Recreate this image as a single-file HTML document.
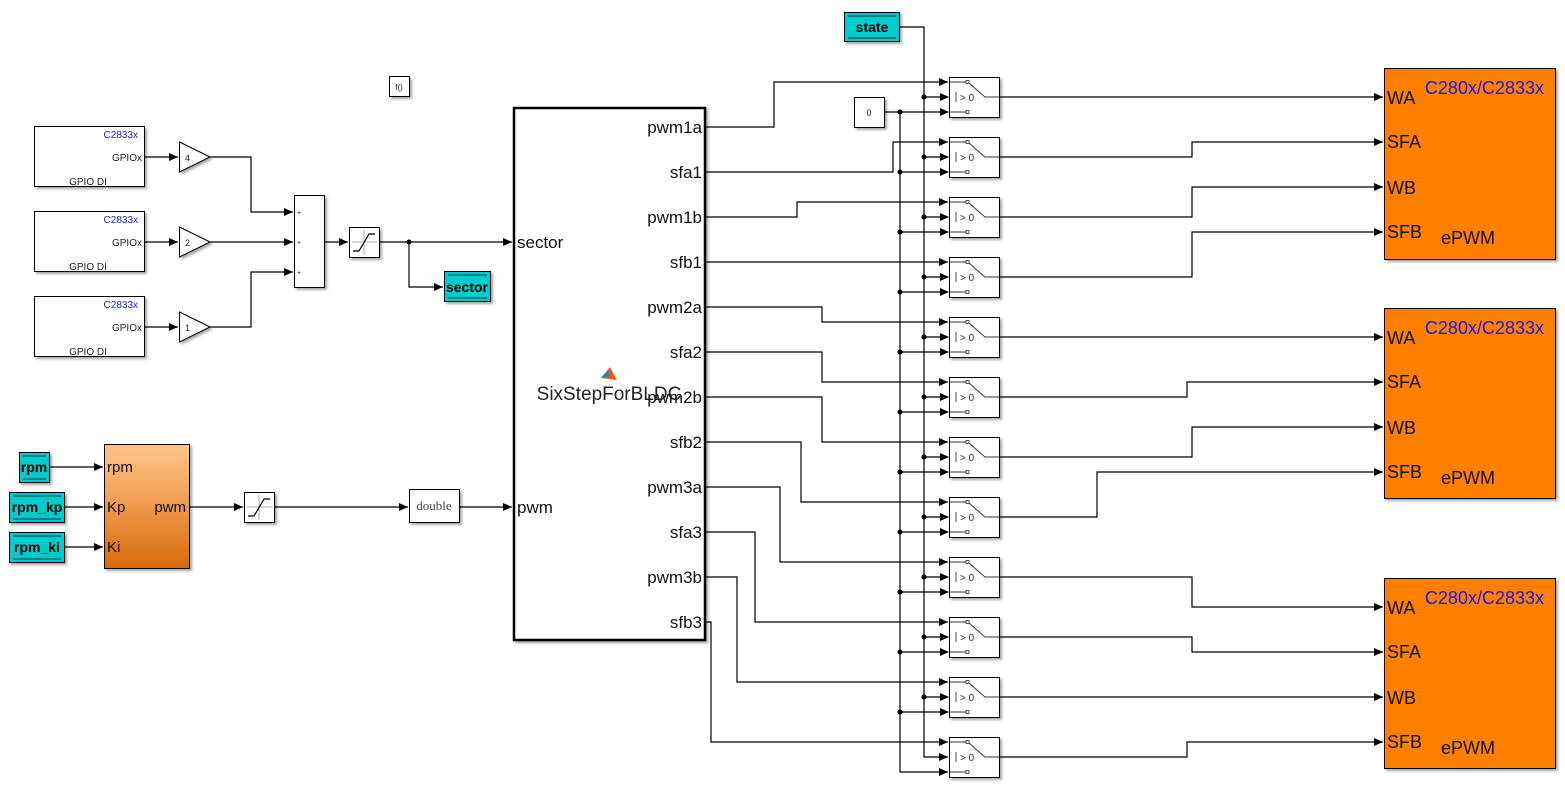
<!DOCTYPE html>
<html><head><meta charset="utf-8"><style>
html,body{margin:0;padding:0;background:#fff;}
svg{display:block;font-family:"Liberation Sans",Arial,sans-serif;}
</style></head><body>
<svg width="1565" height="786" viewBox="0 0 1565 786" xmlns="http://www.w3.org/2000/svg">
<defs>
<marker id="a" markerWidth="10" markerHeight="8" refX="9" refY="4" orient="auto" markerUnits="userSpaceOnUse"><path d="M0,0 L9,4 L0,8 Z" fill="#000"/></marker>
<linearGradient id="og" x1="0" y1="0" x2="0" y2="1"><stop offset="0" stop-color="#ffc58a"/><stop offset="0.35" stop-color="#f5a860"/><stop offset="1" stop-color="#d86a08"/></linearGradient>
<filter id="sh" x="-10%" y="-10%" width="130%" height="130%"><feDropShadow dx="2" dy="2" stdDeviation="1.2" flood-color="#000" flood-opacity="0.35"/></filter>
</defs>

<g fill="none" stroke="#000" stroke-width="1.2">
<path d="M144 157 H178" marker-end="url(#a)"/>
<path d="M144 242 H178" marker-end="url(#a)"/>
<path d="M144 327 H178" marker-end="url(#a)"/>
<path d="M210 157 H251 V212 H293" marker-end="url(#a)"/>
<path d="M210 242 H293" marker-end="url(#a)"/>
<path d="M210 327 H251 V272 H293" marker-end="url(#a)"/>
<path d="M324 242 H348" marker-end="url(#a)"/>
<path d="M379 242 H512" marker-end="url(#a)"/>
<path d="M409 242 V287 H443" marker-end="url(#a)"/>
<path d="M49 467 H103" marker-end="url(#a)"/>
<path d="M64 507 H103" marker-end="url(#a)"/>
<path d="M64 547 H103" marker-end="url(#a)"/>
<path d="M189 507 H243" marker-end="url(#a)"/>
<path d="M274 507 H408" marker-end="url(#a)"/>
<path d="M459 507 H512" marker-end="url(#a)"/>
<path d="M705 127 H774 V82 H948" marker-end="url(#a)"/>
<path d="M705 172 H893 V142 H948" marker-end="url(#a)"/>
<path d="M705 217 H797 V202 H948" marker-end="url(#a)"/>
<path d="M705 262 H948" marker-end="url(#a)"/>
<path d="M705 307 H822 V322 H948" marker-end="url(#a)"/>
<path d="M705 352 H822 V382 H948" marker-end="url(#a)"/>
<path d="M705 397 H822 V442 H948" marker-end="url(#a)"/>
<path d="M705 442 H801 V502 H948" marker-end="url(#a)"/>
<path d="M705 487 H780 V562 H948" marker-end="url(#a)"/>
<path d="M705 532 H755 V622 H948" marker-end="url(#a)"/>
<path d="M705 577 H737 V682 H948" marker-end="url(#a)"/>
<path d="M705 622 H711 V742 H948" marker-end="url(#a)"/>
<path d="M899 27 H924 V757 H948" marker-end="url(#a)"/>
<path d="M924 97 H948 M924 157 H948 M924 217 H948 M924 277 H948 M924 337 H948 M924 397 H948 M924 457 H948 M924 517 H948 M924 577 H948 M924 637 H948 M924 697 H948"/>
<path d="M884 112 H900 V772 H948" marker-end="url(#a)"/>
<path d="M900 172 H948 M900 232 H948 M900 292 H948 M900 352 H948 M900 412 H948 M900 472 H948 M900 532 H948 M900 592 H948 M900 652 H948 M900 712 H948 M900 112 H948"/>
<path d="M999 97 H1383" marker-end="url(#a)"/>
<path d="M999 157 H1192 V142 H1383" marker-end="url(#a)"/>
<path d="M999 217 H1192 V187 H1383" marker-end="url(#a)"/>
<path d="M999 277 H1192 V232 H1383" marker-end="url(#a)"/>
<path d="M999 337 H1383" marker-end="url(#a)"/>
<path d="M999 397 H1187 V382 H1383" marker-end="url(#a)"/>
<path d="M999 457 H1192 V427 H1383" marker-end="url(#a)"/>
<path d="M999 517 H1097 V472 H1383" marker-end="url(#a)"/>
<path d="M999 577 H1192 V607 H1383" marker-end="url(#a)"/>
<path d="M999 637 H1192 V652 H1383" marker-end="url(#a)"/>
<path d="M999 697 H1383" marker-end="url(#a)"/>
<path d="M999 757 H1187 V742 H1383" marker-end="url(#a)"/>
</g>
<g fill="#000">
<path d="M940 93 L949 97 L940 101Z M940 108 L949 112 L940 116Z"/>
<path d="M940 153 L949 157 L940 161Z M940 168 L949 172 L940 176Z"/>
<path d="M940 213 L949 217 L940 221Z M940 228 L949 232 L940 236Z"/>
<path d="M940 273 L949 277 L940 281Z M940 288 L949 292 L940 296Z"/>
<path d="M940 333 L949 337 L940 341Z M940 348 L949 352 L940 356Z"/>
<path d="M940 393 L949 397 L940 401Z M940 408 L949 412 L940 416Z"/>
<path d="M940 453 L949 457 L940 461Z M940 468 L949 472 L940 476Z"/>
<path d="M940 513 L949 517 L940 521Z M940 528 L949 532 L940 536Z"/>
<path d="M940 573 L949 577 L940 581Z M940 588 L949 592 L940 596Z"/>
<path d="M940 633 L949 637 L940 641Z M940 648 L949 652 L940 656Z"/>
<path d="M940 693 L949 697 L940 701Z M940 708 L949 712 L940 716Z"/>
<circle cx="409" cy="242" r="2.5"/>
<circle cx="924" cy="97" r="2.5"/><circle cx="924" cy="157" r="2.5"/><circle cx="924" cy="217" r="2.5"/><circle cx="924" cy="277" r="2.5"/><circle cx="924" cy="337" r="2.5"/><circle cx="924" cy="397" r="2.5"/><circle cx="924" cy="457" r="2.5"/><circle cx="924" cy="517" r="2.5"/><circle cx="924" cy="577" r="2.5"/><circle cx="924" cy="637" r="2.5"/><circle cx="924" cy="697" r="2.5"/>
<circle cx="900" cy="112" r="2.5"/><circle cx="900" cy="172" r="2.5"/><circle cx="900" cy="232" r="2.5"/><circle cx="900" cy="292" r="2.5"/><circle cx="900" cy="352" r="2.5"/><circle cx="900" cy="412" r="2.5"/><circle cx="900" cy="472" r="2.5"/><circle cx="900" cy="532" r="2.5"/><circle cx="900" cy="592" r="2.5"/><circle cx="900" cy="652" r="2.5"/><circle cx="900" cy="712" r="2.5"/>
</g>

<g stroke="#000" stroke-width="1" fill="#fff" filter="url(#sh)">
<rect x="34.5" y="126.5" width="110" height="60"/>
<rect x="34.5" y="211.5" width="110" height="60"/>
<rect x="34.5" y="296.5" width="110" height="60"/>
<path d="M179.5 142 L210 157 L179.5 172Z"/>
<path d="M179.5 227 L210 242 L179.5 257Z"/>
<path d="M179.5 312 L210 327 L179.5 342Z"/>
<rect x="294.5" y="195.5" width="30" height="92"/>
<rect x="349.5" y="227.5" width="30" height="30"/>
<rect x="389.5" y="76.5" width="20" height="20"/>
<rect x="244.5" y="492.5" width="30" height="30"/>
<rect x="409.5" y="489.5" width="50" height="33"/>
<rect x="854.5" y="97.5" width="30" height="30"/>
</g>
<g font-size="10" fill="#222">
<text x="138" y="138" text-anchor="end" fill="#2222dd">C2833x</text>
<text x="142" y="161" text-anchor="end">GPIOx</text>
<text x="88" y="185" text-anchor="middle">GPIO DI</text>
<text x="138" y="223" text-anchor="end" fill="#2222dd">C2833x</text>
<text x="142" y="246" text-anchor="end">GPIOx</text>
<text x="88" y="270" text-anchor="middle">GPIO DI</text>
<text x="138" y="308" text-anchor="end" fill="#2222dd">C2833x</text>
<text x="142" y="331" text-anchor="end">GPIOx</text>
<text x="88" y="355" text-anchor="middle">GPIO DI</text>
<text x="185" y="161" font-size="9">4</text>
<text x="185" y="246" font-size="9">2</text>
<text x="185" y="331" font-size="9">1</text>
<text x="297" y="215" font-size="7">+</text>
<text x="297" y="245" font-size="7">+</text>
<text x="297" y="275" font-size="7">+</text>
<text x="399" y="90" font-size="8" text-anchor="middle">f()</text>
<text x="869" y="116" text-anchor="middle" font-size="9">0</text>
</g>
<g stroke="#999" stroke-width="0.8" fill="none">
<path d="M352 242 H377 M364 230 V255"/>
<path d="M247 507 H272 M259 495 V520"/>
</g>
<g stroke="#000" stroke-width="1.2" fill="none">
<path d="M353 251 H359 L369 234 H375"/>
<path d="M248 516 H254 L264 499 H270"/>
</g>
<text x="434" y="510" font-family="'Liberation Serif',serif" font-size="13" fill="#444" text-anchor="middle">double</text>

<g filter="url(#sh)" stroke="#000" stroke-width="1" fill="#00cccc">
<rect x="444.5" y="271.5" width="46" height="30"/>
<rect x="844.5" y="12.5" width="55" height="29"/>
<rect x="19.5" y="452.5" width="30" height="30"/>
<rect x="9.5" y="492.5" width="55" height="30"/>
<rect x="9.5" y="532.5" width="55" height="30"/>
</g>
<g stroke="#000" stroke-width="0.8">
<path d="M448 275 H487 M448 298 H487"/>
<path d="M848 16 H896 M848 38 H896"/>
<path d="M23 456 H46 M23 479 H46"/>
<path d="M13 496 H61 M13 519 H61"/>
<path d="M13 536 H61 M13 559 H61"/>
</g>
<g font-weight="bold" font-size="14" fill="#000" text-anchor="middle">
<text x="467" y="292">sector</text>
<text x="872" y="32">state</text>
<text x="34" y="472">rpm</text>
<text x="37" y="512">rpm_kp</text>
<text x="37" y="552">rpm_ki</text>
</g>

<rect x="104.5" y="444.5" width="85" height="124" fill="url(#og)" stroke="#000" filter="url(#sh)"/>
<g font-size="15" fill="#111">
<text x="107" y="472">rpm</text>
<text x="107" y="512">Kp</text>
<text x="107" y="552">Ki</text>
<text x="186" y="512" text-anchor="end">pwm</text>
</g>

<rect x="514" y="108" width="191" height="532" fill="#fff" stroke="#000" stroke-width="2.5" filter="url(#sh)"/>
<g font-size="17" fill="#111">
<text x="517" y="248">sector</text>
<text x="517" y="513">pwm</text>
<g text-anchor="end">
<text x="702" y="133">pwm1a</text>
<text x="702" y="178">sfa1</text>
<text x="702" y="223">pwm1b</text>
<text x="702" y="268">sfb1</text>
<text x="702" y="313">pwm2a</text>
<text x="702" y="358">sfa2</text>
<text x="702" y="403">pwm2b</text>
<text x="702" y="448">sfb2</text>
<text x="702" y="493">pwm3a</text>
<text x="702" y="538">sfa3</text>
<text x="702" y="583">pwm3b</text>
<text x="702" y="628">sfb3</text>
</g>
<text x="609" y="400" text-anchor="middle" font-size="19" fill="#222">SixStepForBLDC</text>
</g>
<path d="M601 378 L610 367 L617 380 Z" fill="#e06020"/>
<path d="M601 378 L608 370 L610 376 Z" fill="#2a7fc0"/>

<g stroke="#000" stroke-width="1" fill="#fff" filter="url(#sh)">
<rect x="949.5" y="77.5" width="50" height="40"/><rect x="949.5" y="137.5" width="50" height="40"/><rect x="949.5" y="197.5" width="50" height="40"/><rect x="949.5" y="257.5" width="50" height="40"/><rect x="949.5" y="317.5" width="50" height="40"/><rect x="949.5" y="377.5" width="50" height="40"/><rect x="949.5" y="437.5" width="50" height="40"/><rect x="949.5" y="497.5" width="50" height="40"/><rect x="949.5" y="557.5" width="50" height="40"/><rect x="949.5" y="617.5" width="50" height="40"/><rect x="949.5" y="677.5" width="50" height="40"/><rect x="949.5" y="737.5" width="50" height="40"/>
</g>
<g stroke="#333" stroke-width="0.9" fill="none">
<path d="M950 82H966M950 112H966M969 83L985 97H999M956 92V102"/>
<path d="M950 142H966M950 172H966M969 143L985 157H999M956 152V162"/>
<path d="M950 202H966M950 232H966M969 203L985 217H999M956 212V222"/>
<path d="M950 262H966M950 292H966M969 263L985 277H999M956 272V282"/>
<path d="M950 322H966M950 352H966M969 323L985 337H999M956 332V342"/>
<path d="M950 382H966M950 412H966M969 383L985 397H999M956 392V402"/>
<path d="M950 442H966M950 472H966M969 443L985 457H999M956 452V462"/>
<path d="M950 502H966M950 532H966M969 503L985 517H999M956 512V522"/>
<path d="M950 562H966M950 592H966M969 563L985 577H999M956 572V582"/>
<path d="M950 622H966M950 652H966M969 623L985 637H999M956 632V642"/>
<path d="M950 682H966M950 712H966M969 683L985 697H999M956 692V702"/>
<path d="M950 742H966M950 772H966M969 743L985 757H999M956 752V762"/>
<g stroke-width="0.8">
<rect x="966" y="80.5" width="3" height="3"/><rect x="966" y="110.5" width="3" height="3"/>
<rect x="966" y="140.5" width="3" height="3"/><rect x="966" y="170.5" width="3" height="3"/>
<rect x="966" y="200.5" width="3" height="3"/><rect x="966" y="230.5" width="3" height="3"/>
<rect x="966" y="260.5" width="3" height="3"/><rect x="966" y="290.5" width="3" height="3"/>
<rect x="966" y="320.5" width="3" height="3"/><rect x="966" y="350.5" width="3" height="3"/>
<rect x="966" y="380.5" width="3" height="3"/><rect x="966" y="410.5" width="3" height="3"/>
<rect x="966" y="440.5" width="3" height="3"/><rect x="966" y="470.5" width="3" height="3"/>
<rect x="966" y="500.5" width="3" height="3"/><rect x="966" y="530.5" width="3" height="3"/>
<rect x="966" y="560.5" width="3" height="3"/><rect x="966" y="590.5" width="3" height="3"/>
<rect x="966" y="620.5" width="3" height="3"/><rect x="966" y="650.5" width="3" height="3"/>
<rect x="966" y="680.5" width="3" height="3"/><rect x="966" y="710.5" width="3" height="3"/>
<rect x="966" y="740.5" width="3" height="3"/><rect x="966" y="770.5" width="3" height="3"/>
</g>
</g>
<g font-size="10" fill="#333">
<text x="960" y="101">&gt; 0</text><text x="960" y="161">&gt; 0</text><text x="960" y="221">&gt; 0</text><text x="960" y="281">&gt; 0</text><text x="960" y="341">&gt; 0</text><text x="960" y="401">&gt; 0</text><text x="960" y="461">&gt; 0</text><text x="960" y="521">&gt; 0</text><text x="960" y="581">&gt; 0</text><text x="960" y="641">&gt; 0</text><text x="960" y="701">&gt; 0</text><text x="960" y="761">&gt; 0</text>
</g>

<g fill="#ff8000" stroke="#000" stroke-width="1" filter="url(#sh)">
<rect x="1384.5" y="68.5" width="171" height="191"/>
<rect x="1384.5" y="308.5" width="171" height="190"/>
<rect x="1384.5" y="578.5" width="171" height="190"/>
</g>
<g font-size="18" fill="#111">
<text x="1387" y="104">WA</text><text x="1387" y="148">SFA</text><text x="1387" y="194">WB</text><text x="1387" y="238">SFB</text>
<text x="1441" y="244">ePWM</text>
<text x="1387" y="344">WA</text><text x="1387" y="388">SFA</text><text x="1387" y="434">WB</text><text x="1387" y="478">SFB</text>
<text x="1441" y="484">ePWM</text>
<text x="1387" y="614">WA</text><text x="1387" y="658">SFA</text><text x="1387" y="704">WB</text><text x="1387" y="748">SFB</text>
<text x="1441" y="754">ePWM</text>
<g fill="#1a1ae6" text-anchor="end">
<text x="1544" y="94">C280x/C2833x</text>
<text x="1544" y="334">C280x/C2833x</text>
<text x="1544" y="604">C280x/C2833x</text>
</g>
</g>
</svg>
</body></html>
